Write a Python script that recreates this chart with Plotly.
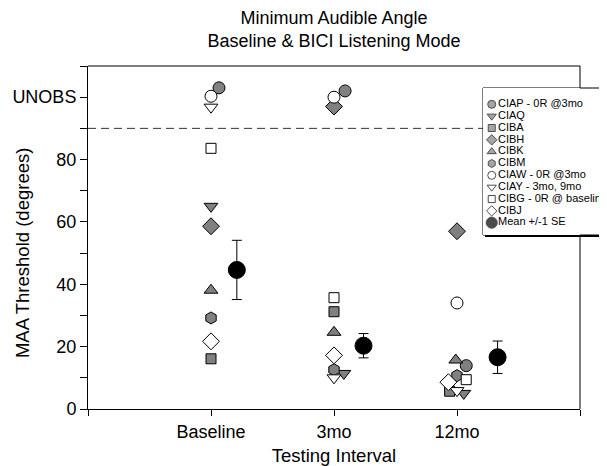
import plotly.graph_objects as go

# ---------------- data ----------------
intervals = ["Baseline", "3mo", "12mo"]
interval_pos = [1, 2, 3]

subjects = ["CIAP", "CIAQ", "CIBA", "CIBH", "CIBK", "CIBM", "CIAW", "CIAY", "CIBG", "CIBJ"]
legend_labels = ["CIAP - 0R @3mo", "CIAQ", "CIBA", "CIBH", "CIBK", "CIBM",
                 "CIAW - 0R @3mo", "CIAY - 3mo, 9mo", "CIBG - 0R @ baseline", "CIBJ",
                 "Mean +/-1 SE"]

CIAP = [103, 102, 13.9]
CIAQ = [65, 11.4, 5.0]
CIBA = [16.1, 31.2, 5.7]
CIBH = [58.6, 97, 57]
CIBK = [38.1, 24.6, 15.7]
CIBM = [29.2, 12.6, 10.7]
CIAW = [100.3, 100, 34.0]
CIAY = [96.8, 10.0, 5.9]
CIBG = [83.6, 35.7, 9.4]
CIBJ = [21.7, 17.2, 8.6]
values = {"CIAP": CIAP, "CIAQ": CIAQ, "CIBA": CIBA, "CIBH": CIBH, "CIBK": CIBK,
          "CIBM": CIBM, "CIAW": CIAW, "CIAY": CIAY, "CIBG": CIBG, "CIBJ": CIBJ}

mean_values = [44.6, 20.3, 16.6]
mean_se = [9.5, 3.9, 5.2]

y_tick_vals = [0, 10, 20, 30, 40, 50, 60, 70, 80, 90, 100, 110]
y_tick_text = ["0", "", "20", "", "40", "", "60", "", "80", "", "UNOBS", ""]
unobs_cutoff = 90

# ---------------- styles / positions ----------------
GRAY = "#808080"
styles = {
    "CIAP": dict(symbol="circle", color=GRAY, size=12),
    "CIAQ": dict(symbol="triangle-down", color=GRAY, size=12),
    "CIBA": dict(symbol="square", color=GRAY, size=10),
    "CIBH": dict(symbol="diamond", color=GRAY, size=13),
    "CIBK": dict(symbol="triangle-up", color=GRAY, size=12),
    "CIBM": dict(symbol="hexagon", color=GRAY, size=12),
    "CIAW": dict(symbol="circle", color="white", size=12),
    "CIAY": dict(symbol="triangle-down", color="white", size=12),
    "CIBG": dict(symbol="square", color="white", size=10),
    "CIBJ": dict(symbol="diamond", color="white", size=13),
}
# horizontal jitter (category units) used in the reference to separate overlapping marks
jitter = {
    "CIAP": [0.065, 0.09, 0.075],
    "CIAQ": [0, 0.08, 0.055],
    "CIBA": [0, 0, -0.06],
    "CIBK": [0, 0, -0.01],
    "CIBJ": [0, 0, -0.07],
    "CIBG": [0, 0, 0.075],
}
mean_offset = [0.21, 0.24, 0.33]

FONT = "Liberation Sans, Arial, Helvetica, sans-serif"

fig = go.Figure()

for s in subjects:
    st = styles[s]
    off = jitter.get(s, [0, 0, 0])
    fig.add_trace(go.Scatter(
        x=[p + o for p, o in zip(interval_pos, off)], y=values[s],
        mode="markers", name=s, showlegend=False,
        marker=dict(symbol=st["symbol"], color=st["color"], size=st["size"],
                    line=dict(color="black", width=1)),
    ))

fig.add_trace(go.Scatter(
    x=[p + o for p, o in zip(interval_pos, mean_offset)], y=mean_values,
    mode="markers", name="Mean +/-1 SE", showlegend=False,
    marker=dict(symbol="circle", color="black", size=17, line=dict(color="black", width=1)),
    error_y=dict(type="data", array=mean_se, visible=True, color="black", thickness=1, width=5),
))

# ---------------- custom legend on an inset axis ----------------
leg_rows = list(range(len(legend_labels)))
leg_symbols = [styles[s]["symbol"] for s in subjects] + ["circle"]
leg_colors = [styles[s]["color"] for s in subjects] + ["black"]
leg_sizes = [8 if styles[s]["symbol"] != "square" else 7 for s in subjects] + [11]
LEG_MARK_X = 0.09
LEG_TEXT_X = 0.155

fig.add_trace(go.Scatter(
    x=[LEG_MARK_X] * len(leg_rows), y=leg_rows, xaxis="x2", yaxis="y2",
    mode="markers", showlegend=False, hoverinfo="skip", cliponaxis=False,
    marker=dict(symbol=leg_symbols, color=leg_colors, size=leg_sizes,
                line=dict(color="black", width=1)),
))
fig.add_trace(go.Scatter(
    x=[LEG_TEXT_X] * len(leg_rows), y=leg_rows, xaxis="x2", yaxis="y2",
    mode="text", text=legend_labels, textposition="middle right",
    textfont=dict(family=FONT, size=11, color="black"),
    showlegend=False, hoverinfo="skip", cliponaxis=False,
))

# layout geometry (page body adds an 8px margin, so the figure is 8px smaller)
PAGE_OFF = 8
W, H = 607 - PAGE_OFF, 466 - PAGE_OFF
ML, MT = 88 - PAGE_OFF, 66 - PAGE_OFF
MR, MB = 27, 57
PW, PH = W - ML - MR, H - MT - MB
leg_left, leg_top, leg_bottom = 483 - PAGE_OFF, 88 - PAGE_OFF, 235 - PAGE_OFF
lx0 = (leg_left - ML) / PW
lx1 = (W - ML + 3) / PW
ly0 = (H - MB - leg_bottom) / PH
ly1 = (H - MB - leg_top) / PH
row_px = 11.84
first_row_px = 104.3 - PAGE_OFF
top_rows = (first_row_px - leg_top) / row_px
y2_range = [-top_rows + (leg_bottom - leg_top) / row_px, -top_rows]

shapes = [
    # UNOBS cutoff line
    dict(type="line", xref="paper", yref="y", x0=0, x1=1, y0=unobs_cutoff, y1=unobs_cutoff,
         line=dict(color="#333333", width=1, dash="8px,5px"), layer="below"),
    # top and right frame
    dict(type="line", xref="paper", yref="paper", x0=0, x1=1, y0=1, y1=1,
         line=dict(color="black", width=1), layer="below"),
    dict(type="line", xref="paper", yref="paper", x0=1, x1=1, y0=0, y1=1,
         line=dict(color="black", width=1), layer="below"),
    # legend box
    dict(type="rect", xref="paper", yref="paper", x0=lx0, x1=lx1, y0=ly0, y1=ly1,
         fillcolor="white", line=dict(color="black", width=1), layer="below"),
    # legend drop shadow along the bottom edge
    dict(type="rect", xref="paper", yref="paper", x0=lx0 + 2 / PW, x1=lx1,
         y0=ly0 - 2 / PH, y1=ly0, fillcolor="black",
         line=dict(width=0), layer="below"),
]

fig.update_layout(
    width=W, height=H,
    margin=dict(l=ML, r=MR, t=MT, b=MB, autoexpand=False),
    paper_bgcolor="white", plot_bgcolor="white",
    font=dict(family=FONT, color="black", size=18),
    showlegend=False,
    title=dict(text="Minimum Audible Angle<br>Baseline & BICI Listening Mode",
               x=0.5, xref="paper", xanchor="center",
               y=1 - 16 / H, yref="container", yanchor="top",
               font=dict(family=FONT, size=18, color="black")),
    xaxis=dict(range=[0, 4], tickvals=[0] + interval_pos + [4],
               ticktext=[""] + intervals + [""],
               showgrid=False, zeroline=False, showline=True, linecolor="black", linewidth=1,
               ticks="outside", ticklen=6, tickcolor="black", tickwidth=1,
               tickfont=dict(size=18), automargin=False,
               title=dict(text="Testing Interval", font=dict(size=18.5), standoff=12)),
    yaxis=dict(range=[0, 110], tickvals=y_tick_vals, ticktext=y_tick_text,
               showgrid=False, zeroline=False, showline=True, linecolor="black", linewidth=1,
               ticks="outside", ticklen=7, tickcolor="black", tickwidth=1,
               tickfont=dict(size=18), automargin=False),
    xaxis2=dict(domain=[lx0, 1], range=[0, 1], anchor="y2", visible=False, fixedrange=True),
    yaxis2=dict(domain=[ly0, ly1], range=y2_range, anchor="x2", visible=False, fixedrange=True),
    shapes=shapes,
    annotations=[dict(text="MAA Threshold (degrees)", textangle=-90,
                      xref="paper", yref="y", x=(22 - PAGE_OFF - ML) / PW, y=50,
                      xanchor="center", yanchor="middle", showarrow=False,
                      font=dict(family=FONT, size=18.5, color="black"))],
)

fig.write_html("out.html", config={"displayModeBar": False})
